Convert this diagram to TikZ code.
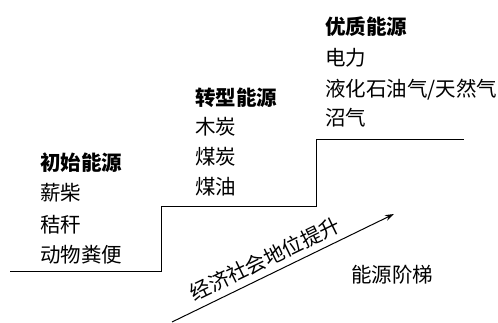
\documentclass[tikz,border=0pt]{standalone}
\usepackage{fontspec}
\setmainfont{Noto Sans CJK SC}
\usetikzlibrary{arrows.meta}
\tikzset{
  lbl/.style={anchor=west, inner sep=0pt, font=\fontsize{20.5}{20.5}\selectfont},
  head/.style={lbl, font=\fontsize{20.5}{20.5}\selectfont\bfseries},
  stair/.style={line width=1pt},
  rise/.style={line width=1pt, -{Stealth[length=9pt,width=6pt]}}
}
\begin{document}
\begin{tikzpicture}[x=1pt,y=1pt]
\useasboundingbox (0,0) rectangle (498,323);
% staircase (y = 323 - pixel y)
\coordinate (s0) at (10,51);
\coordinate (s1) at (161,51);
\coordinate (s2) at (161,116);
\coordinate (s3) at (316,116);
\coordinate (s4) at (316,183);
\coordinate (s5) at (464,183);
\draw[stair] (s0) -- (s1) -- (s2) -- (s3) -- (s4) -- (s5);
% column 1
\node[head] (h1) at (40,160) {初始能源};
\node[lbl] (t11) at (40,130) {薪柴};
\node[lbl] (t12) at (40,98) {秸秆};
\node[lbl] (t13) at (40,68) {动物粪便};
% column 2
\node[head] (h2) at (195,225) {转型能源};
\node[lbl] (t21) at (195,196) {木炭};
\node[lbl] (t22) at (195,166) {煤炭};
\node[lbl] (t23) at (195,136) {煤油};
% column 3
\node[head] (h3) at (325,296) {优质能源};
\node[lbl] (t31) at (325,265) {电力};
\node[lbl] (t32) at (325,233) {液化石油气/天然气};
\node[lbl] (t33) at (325,205) {沼气};
% arrow
\coordinate (a0) at (172,1);
\coordinate (a1) at (394,109);
\draw[rise] (a0) -- (a1) node[pos=0.45, sloped, above=6pt, inner sep=0pt, font=\fontsize{20.5}{20.5}\selectfont] (up) {经济社会地位提升};
\node[inner sep=0pt, font=\fontsize{20.5}{20.5}\selectfont] (lad) at (392,48) {能源阶梯};
\end{tikzpicture}
\end{document}
